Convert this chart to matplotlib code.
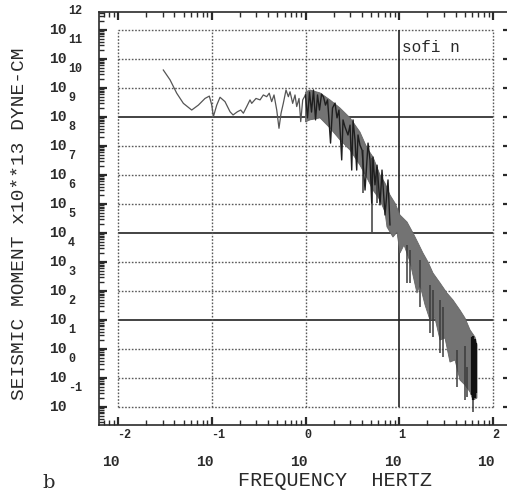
import numpy as np
import matplotlib
matplotlib.use("Agg")
import matplotlib.pyplot as plt
from matplotlib import transforms
from matplotlib.ticker import LogLocator, NullFormatter

# ── data (log10 values) ───────────────────────────────────────────────
# low-frequency part of the spectrum (single line)
low_logf = [-1.517, -1.445, -1.374, -1.303, -1.214, -1.143, -1.072, -1.026, -1.0,
            -0.983, -0.947, -0.912, -0.859, -0.805, -0.773, -0.727, -0.691, -0.663,
            -0.627, -0.592, -0.574, -0.528, -0.485, -0.450, -0.414, -0.387, -0.361,
            -0.336, -0.307, -0.283, -0.261, -0.237, -0.208, -0.183, -0.165, -0.137,
            -0.112, -0.094, -0.069, -0.051, -0.030, 0.0]
low_logm = [10.62, 10.28, 9.82, 9.47, 9.24, 9.41, 9.64, 9.72, 9.41,
            9.01, 9.41, 9.68, 9.53, 9.18, 9.07, 9.18, 9.24, 9.13,
            9.36, 9.59, 9.47, 9.64, 9.59, 9.76, 9.70, 9.82, 9.53,
            9.76, 9.24, 8.61, 9.13, 9.47, 9.93, 9.70, 9.87, 9.47,
            9.76, 9.36, 9.64, 8.84, 9.59, 9.76]

# spiky middle part (dark line)
mid_logf = [0.0, 0.021, 0.043, 0.064, 0.085, 0.107, 0.128, 0.149, 0.171, 0.192,
            0.213, 0.235, 0.245, 0.267, 0.288, 0.315, 0.336, 0.357, 0.386, 0.400,
            0.421, 0.453, 0.475, 0.493, 0.507, 0.528, 0.546, 0.560, 0.581, 0.603,
            0.635, 0.667, 0.688, 0.706, 0.720, 0.741, 0.763, 0.795, 0.816, 0.848,
            0.880, 0.901]
mid_logm = [9.76, 8.97, 9.86, 9.17, 9.93, 8.90, 9.76, 9.24, 9.79, 9.69,
            9.41, 9.59, 9.14, 8.10, 9.31, 9.48, 8.97, 9.24, 7.52, 8.90,
            8.66, 8.38, 8.72, 7.17, 8.90, 8.21, 7.17, 8.38, 8.03, 7.86,
            6.48, 8.10, 7.52, 6.03, 7.62, 6.66, 7.34, 5.97, 7.17, 5.62,
            6.83, 5.28]

# dense high-frequency band: upper edge and lower edge
top_logf = [0.0, 0.048, 0.155, 0.261, 0.368, 0.475, 0.581, 0.656, 0.720, 0.795,
            0.848, 0.901, 0.955, 1.008, 1.083, 1.147, 1.200, 1.253, 1.307, 1.360,
            1.435, 1.509, 1.573, 1.648, 1.701, 1.755, 1.808, 1.829]
top_logm = [9.86, 9.93, 9.83, 9.59, 9.31, 8.97, 8.48, 7.93, 7.62, 7.00,
            6.72, 6.31, 6.03, 5.62, 5.38, 5.00, 4.66, 4.31, 4.00, 3.62,
            3.28, 2.93, 2.69, 2.34, 2.07, 1.66, 1.41, 1.14]
bot_logf = [0.0, 0.048, 0.155, 0.261, 0.368, 0.475, 0.581, 0.656, 0.720, 0.795,
            0.848, 0.869, 0.933, 0.976, 1.008, 1.051, 1.115, 1.189, 1.221, 1.275,
            1.328, 1.381, 1.435, 1.488, 1.541, 1.595, 1.648, 1.701, 1.755, 1.787,
            1.829]
bot_logm = [8.83, 8.90, 8.97, 8.62, 8.21, 7.86, 7.34, 6.90, 6.48, 6.14,
            5.72, 5.21, 4.86, 5.03, 4.31, 4.59, 4.00, 2.93, 3.21, 2.52,
            2.00, 2.07, 1.31, 1.38, 0.55, 0.62, -0.07, -0.24, -0.48, -0.76,
            -0.69]

# darker streaks / deep spikes in the band
spike_logf = [0.613, 0.709, 0.763, 1.083, 1.115, 1.221, 1.328, 1.360, 1.435, 1.467,
              1.616, 1.701, 1.723, 1.787]
spike_top = [7.86, 7.60, 7.28, 4.60, 4.41, 4.07, 3.20, 3.03, 2.70, 2.45,
             0.97, 1.10, 0.38, 0.60]
spike_bot = [6.38, 5.03, 6.03, 3.28, 3.28, 2.45, 1.55, 1.41, 0.86, 0.72,
             -0.31, -0.76, -0.66, -1.17]

# black end of the record
end_logf = [1.776, 1.790, 1.805, 1.818]
end_top = [1.41, 1.45, 1.35, 1.20]
end_bot = [-0.60, -0.76, -0.70, -0.50]

y_decades = list(range(-1, 13))
x_decades = [-2, -1, 0, 1, 2]

INK = "#2a2a2a"
W, H = 507, 493

fig = plt.figure(figsize=(W / 100, H / 100), dpi=100)
ax = fig.add_axes([99 / W, (H - 425) / H, (511 - 99) / W, (425 - 12) / H])
ax.set_xscale("log"); ax.set_yscale("log")
ax.set_xlim(10 ** -2.203, 10 ** 2.192)
ax.set_ylim(10 ** -1.62, 10 ** 12.62)

for axis in (ax.xaxis, ax.yaxis):
    axis.set_major_locator(LogLocator(base=10, numticks=100))
    axis.set_minor_locator(LogLocator(base=10, subs=np.arange(2, 10), numticks=100))
    axis.set_minor_formatter(NullFormatter())
ax.tick_params(which="both", direction="in", top=True, right=True,
               labelleft=False, labelbottom=False, colors=INK)
ax.tick_params(which="major", length=6, width=1.6)
ax.tick_params(which="minor", length=3.5, width=1.0, right=False)
for s in ax.spines.values():
    s.set_linewidth(1.2); s.set_color(INK)

# inner gridded box
x0, x1 = 10.0 ** x_decades[0], 10.0 ** x_decades[-1]
y0, y1 = 10.0 ** y_decades[0], 10.0 ** y_decades[-1]
dots = (0, (1.2, 1.2))
solid = {9, 5, 2}
for k in y_decades:
    if k in solid:
        ax.hlines(10.0 ** k, x0, x1, color="#222222", lw=1.2, zorder=1)
    else:
        ax.hlines(10.0 ** k, x0, x1, color="#5a5a5a", lw=1.0, ls=dots, zorder=1)
for k in x_decades:
    if k == 1:
        ax.vlines(10.0 ** k, y0, y1, color="#222222", lw=1.2, zorder=1)
    else:
        ax.vlines(10.0 ** k, y0, y1, color="#5a5a5a", lw=1.0, ls=dots, zorder=1)

# spectrum
poly_f = 10 ** np.r_[top_logf, bot_logf[::-1]]
poly_m = 10 ** np.r_[top_logm, bot_logm[::-1]]
ax.fill(poly_f, poly_m, color="#737373", lw=0.6, ec="#666666", zorder=2)
ax.vlines(10 ** np.array(spike_logf), 10 ** np.array(spike_bot), 10 ** np.array(spike_top),
          color="#3c3c3c", lw=1.1, zorder=3)
ax.plot(10 ** np.array(low_logf), 10 ** np.array(low_logm), color="#555555", lw=0.9, zorder=3)
ax.plot(10 ** np.array(mid_logf), 10 ** np.array(mid_logm), color="#1e1e1e", lw=1.0, zorder=3)
ax.vlines(10 ** np.array(end_logf), 10 ** np.array(end_bot), 10 ** np.array(end_top),
          color="#111111", lw=1.6, zorder=3)

# tick labels in the old "10 with exponent" style
mono = "Liberation Mono"
ty = transforms.blended_transform_factory(fig.transFigure, ax.transData)
for k in y_decades:
    ax.text(67 / W, 10.0 ** k, "10", transform=ty, ha="right", va="center",
            family=mono, fontsize=10.5, weight="bold", color=INK)
    ax.text(68 / W, 10.0 ** (k + 0.66), str(k), transform=ty, ha="left", va="center",
            family=mono, fontsize=8.5, weight="bold", color=INK)
tx = transforms.blended_transform_factory(ax.transData, fig.transFigure)
for k in x_decades:
    ax.text(10.0 ** (k + 2 / 93.75), (H - 462) / H, "10", transform=tx, ha="right",
            va="center", family=mono, fontsize=10.5, weight="bold", color=INK)
    ax.text(10.0 ** (k - 1 / 93.75), (H - 435) / H, str(k), transform=tx, ha="left",
            va="center", family=mono, fontsize=8.5, weight="bold", color=INK)

fig.text(335 / W, (H - 481) / H, "FREQUENCY  HERTZ", ha="center", va="center",
         family=mono, fontsize=14.5, color=INK)
fig.text(20 / W, (H - 224) / H, "SEISMIC MOMENT x10**13 DYNE-CM", rotation=90,
         ha="center", va="center", family=mono, fontsize=14, color=INK)
fig.text(402 / W, (H - 47) / H, "sofi n", ha="left", va="center",
         family=mono, fontsize=11.5, color=INK)
fig.text(49 / W, (H - 483) / H, "b", ha="center", va="center",
         family="DejaVu Serif", fontsize=14, color=INK)

fig.savefig("out.png", dpi=100)
